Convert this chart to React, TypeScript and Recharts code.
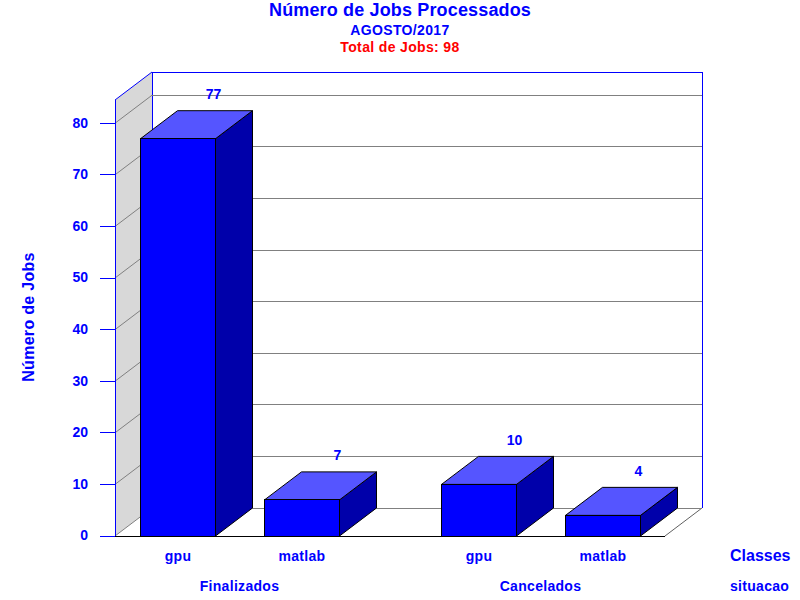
import { Bar, BarChart, LabelList, ReferenceLine, XAxis, YAxis } from 'recharts'

const groups = ['Finalizados', 'Cancelados']
const seriesNames = ['gpu', 'matlab']
const gpuValues = [77, 10]
const matlabValues = [7, 4]
const yTicks = [0, 10, 20, 30, 40, 50, 60, 70, 80]
const yMax = 84.5

const data = groups.map((name, i) => ({ name, gpu: gpuValues[i], matlab: matlabValues[i] }))

const BLUE = '#0000ff'
const FONT = '"Liberation Sans", Arial, sans-serif'
const DX = 37
const DY = 28
const BAR_SIZE = 75
const BAR_GAP = 49
const PLOT_HEIGHT = 436

function Bar3D({ x, y, width, height }: any) {
  const top = `${x},${y} ${x + DX},${y - DY} ${x + width + DX},${y - DY} ${x + width},${y}`
  const side = `${x + width},${y} ${x + width + DX},${y - DY} ${x + width + DX},${y + height - DY} ${x + width},${y + height}`
  return (
    <g stroke="#000" strokeWidth={1}>
      <polygon points={side} fill="#0000aa" />
      <polygon points={top} fill="#5555ff" />
      <rect x={x} y={y} width={width} height={height} fill={BLUE} shapeRendering="crispEdges" />
    </g>
  )
}

function BarValue({ x, y, width, value }: any) {
  return (
    <text x={x + width / 2 + 35.5} y={y - 39.5} textAnchor="middle" fill={BLUE} fontFamily={FONT} fontSize={14} fontWeight="bold">
      {value}
    </text>
  )
}

// drawn from the reference line at the top of the value axis
function Walls({ x1, x2, y1 }: any) {
  const bottom = y1 + PLOT_HEIGHT
  return (
    <g>
      <polygon points={`${x1},${y1} ${x1 + DX},${y1 - DY} ${x1 + DX},${bottom - DY} ${x1},${bottom}`} fill="#d8d8d8" />
      <line x1={x1} y1={y1} x2={x1 + DX} y2={y1 - DY} stroke={BLUE} />
      <polyline points={`${x1 + DX},${bottom - DY} ${x1 + DX},${y1 - DY} ${x2 + DX},${y1 - DY} ${x2 + DX},${bottom - DY}`} fill="none" stroke={BLUE} shapeRendering="crispEdges" />
      <line x1={x2} y1={bottom} x2={x2 + DX} y2={bottom - DY} stroke="#606060" />
    </g>
  )
}

function GridLine({ x1, y1, x2 }: any) {
  return (
    <g stroke="#808080">
      <line x1={x1} y1={y1} x2={x1 + DX} y2={y1 - DY} />
      <line x1={x1 + DX} y1={y1 - DY} x2={x2 + DX} y2={y1 - DY} shapeRendering="crispEdges" />
    </g>
  )
}

function GroupTick({ x, y, payload }: any) {
  const step = (BAR_SIZE + BAR_GAP) / 2
  return (
    <g fontFamily={FONT} fontWeight="bold" fontSize={14} fill={BLUE} letterSpacing={0.3}>
      <text x={x - step} y={y + 17} textAnchor="middle">{seriesNames[0]}</text>
      <text x={x + step} y={y + 17} textAnchor="middle">{seriesNames[1]}</text>
      <text x={x - 0.5} y={y + 47} textAnchor="middle">{payload.value}</text>
    </g>
  )
}

export default function App() {
  return (
    <div style={{ position: 'absolute', left: 0, top: 0, width: 800, height: 600 }}>
      <BarChart
        width={800}
        height={600}
        data={data}
        margin={{ top: 100, right: 135, bottom: 0, left: 0 }}
        barSize={BAR_SIZE}
        barGap={BAR_GAP}
      >
        <ReferenceLine y={yMax} shape={<Walls />} ifOverflow="visible" zIndex={-60} />
        {yTicks.map((t) => (
          <ReferenceLine key={t} y={t} shape={<GridLine />} ifOverflow="visible" zIndex={-50} />
        ))}
        <XAxis
          dataKey="name"
          scale="point"
          padding={{ left: 125, right: 124 }}
          height={64}
          axisLine={{ stroke: '#000', shapeRendering: 'crispEdges' }}
          tickLine={false}
          tick={<GroupTick />}
        />
        <YAxis
          width={115}
          domain={[0, yMax]}
          ticks={yTicks}
          interval={0}
          tickSize={15}
          tickMargin={12}
          axisLine={{ stroke: BLUE, shapeRendering: 'crispEdges' }}
          tickLine={{ stroke: BLUE, shapeRendering: 'crispEdges' }}
          tick={{ fill: BLUE, fontFamily: FONT, fontSize: 14, fontWeight: 'bold', dy: -0.5 }}
        />
        <Bar dataKey="gpu" isAnimationActive={false} shape={<Bar3D />}>
          <LabelList dataKey="gpu" content={<BarValue />} />
        </Bar>
        <Bar dataKey="matlab" isAnimationActive={false} shape={<Bar3D />}>
          <LabelList dataKey="matlab" content={<BarValue />} />
        </Bar>
        <g fontFamily={FONT} fontWeight="bold" textAnchor="middle">
          <text x={400} y={16} fontSize={18} fill={BLUE} letterSpacing={0.15}>Número de Jobs Processados</text>
          <text x={400} y={35} fontSize={14} fill={BLUE} letterSpacing={0.35}>AGOSTO/2017</text>
          <text x={400} y={52} fontSize={14} fill="#ff0000" letterSpacing={0.35}>Total de Jobs: 98</text>
          <text x={0} y={0} fontSize={16} fill={BLUE} letterSpacing={0.3} transform="translate(34,317) rotate(-90)">Número de Jobs</text>
        </g>
        <g fontFamily={FONT} fontWeight="bold" fill={BLUE}>
          <text x={730} y={561} fontSize={16}>Classes</text>
          <text x={730} y={591} fontSize={14} letterSpacing={0.3}>situacao</text>
        </g>
      </BarChart>
    </div>
  )
}
